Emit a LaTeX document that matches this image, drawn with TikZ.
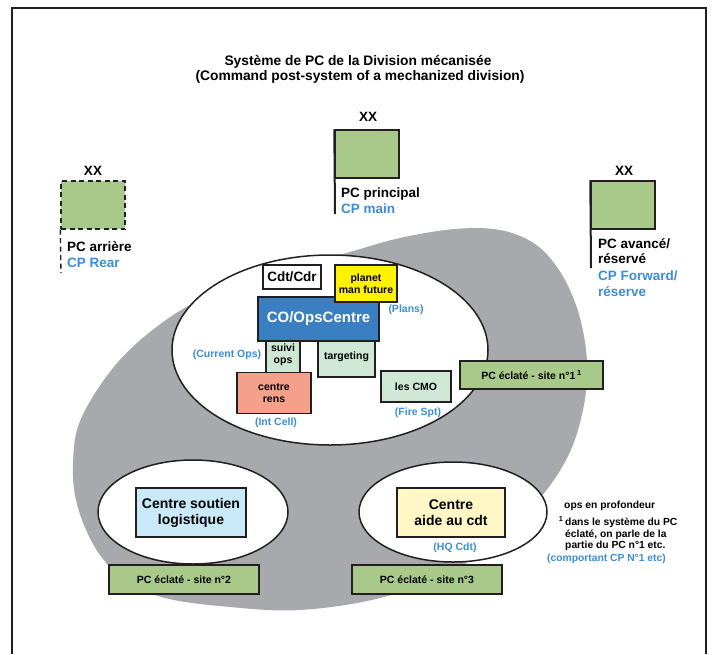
\documentclass[tikz,border=0pt]{standalone}
\usepackage{fontspec}
\setmainfont{Liberation Sans}
\usetikzlibrary{shapes.geometric}

\definecolor{framecol}{HTML}{231F20}
\definecolor{zonegray}{HTML}{A7A9AC}
\definecolor{flaggreen}{HTML}{A9C98A}
\definecolor{cpblue}{HTML}{3B8ED6}
\definecolor{opsblue}{HTML}{3A7FC2}
\definecolor{palegreen}{HTML}{CFE8D6}
\definecolor{salmon}{HTML}{F5A08A}
\definecolor{plansyellow}{HTML}{FFF200}
\definecolor{paleyellow}{HTML}{FFF8C6}
\definecolor{paleblue}{HTML}{C9E9F8}

\newcommand\myfs[2]{\fontsize{#1}{#2}\selectfont}

\begin{document}
\begin{tikzpicture}[x=1pt,y=-1pt,
  cellbox/.style={draw=framecol, line width=1.5pt, inner sep=0pt, align=center,
    font=\bfseries\myfs{10.5}{12}},
  sitebox/.style={cellbox, fill=flaggreen},
  bigbox/.style={cellbox, font=\bfseries\myfs{14}{16}},
  flagbox/.style={draw=framecol, line width=1.4pt, fill=flaggreen, inner sep=0pt,
    minimum width=64, minimum height=48},
  xxlabel/.style={font=\bfseries\myfs{13.5}{16}, inner sep=0pt},
  flagtext/.style={anchor=base west, inner sep=0pt, font=\bfseries\myfs{13.5}{16}},
  bluetag/.style={inner sep=0pt, text=cpblue, font=\bfseries\myfs{10.5}{12}},
  note/.style={anchor=base west, inner sep=0pt, font=\bfseries\myfs{10.3}{12}},
  zone/.style={draw=framecol, line width=1.5pt, fill=white},
  pole/.style={framecol, line width=2pt}
]
\useasboundingbox (0,0) rectangle (712,654);
\fill[white] (0,0) rectangle (712,654);

% open frame
\draw[framecol, line width=2.5pt] (12,654) -- (12,8) -- (706,8) -- (706,654);

% title
\node[inner sep=0pt, font=\bfseries\myfs{13.8}{15}] (title1) at (358,62)
  {Système de PC de la Division mécanisée};
\node[inner sep=0pt, font=\bfseries\myfs{13.8}{15}] (title2) at (360,77)
  {(Command post-system of a mechanized division)};

% main CP flag
\node[flagbox] (fmain) at (367,154) {};
\coordinate (fmainfoot) at (335,214);
\draw[pole] (fmain.north west) -- (fmainfoot);
\node[xxlabel] (xxmain) at (368,117) {XX};
\node[flagtext] (pcmain) at (341,197) {PC principal};
\node[flagtext, text=cpblue] (cpmain) at (341,213) {CP main};

% rear CP flag (dashed)
\node[flagbox, dashed, dash pattern=on 5pt off 3.5pt] (frear) at (93,205) {};
\coordinate (frearfoot) at (61,273);
\draw[pole, line width=1.4pt, dash pattern=on 5pt off 3.5pt] (frear.south west) -- (frearfoot);
\node[xxlabel] (xxrear) at (93,171) {XX};
\node[flagtext] (pcrear) at (67,251) {PC arrière};
\node[flagtext, text=cpblue] (cprear) at (67,267) {CP Rear};

% forward CP flag
\node[flagbox] (ffwd) at (623,205) {};
\coordinate (ffwdfoot) at (591,268);
\draw[pole] (ffwd.north west) -- (ffwdfoot);
\node[xxlabel] (xxfwd) at (624,171) {XX};
\node[flagtext] (pcfwd1) at (598,248) {PC avancé/};
\node[flagtext] (pcfwd2) at (598,263) {réservé};
\node[flagtext, text=cpblue] (cpfwd1) at (598,280) {CP Forward/};
\node[flagtext, text=cpblue] (cpfwd2) at (598,296) {réserve};

% grey zone of the divisional CP
\fill[zonegray] plot[smooth cycle, tension=0.6] coordinates {
  (73,465) (77,430) (92,398) (118,362) (150,332) (190,305) (240,285)
  (300,266) (350,252) (400,238) (455,229) (500,230) (535,244) (559,270)
  (576,305) (585,342) (587,375) (583,410) (570,452) (545,492) (505,535)
  (450,572) (380,598) (300,610) (230,607) (165,598) (125,580) (100,555)
  (84,525) (75,495)};

% main zone
\draw[zone] (330,350) ellipse [x radius=158, y radius=95];

\node[cellbox, fill=palegreen, minimum width=34, minimum height=36] (suivi) at (283,355) {suivi\\ops};
\node[cellbox, fill=palegreen, minimum width=57, minimum height=40] (targ) at (346.5,357) {targeting};
\node[cellbox, fill=opsblue, text=white, font=\bfseries\myfs{15}{17}, minimum width=121, minimum height=44] (ops) at (318.5,319) {CO/OpsCentre};
\node[cellbox, fill=white, font=\bfseries\myfs{13.5}{16}, minimum width=58, minimum height=24] (cdt) at (292,277) {Cdt/Cdr};
\node[cellbox, fill=plansyellow, minimum width=62, minimum height=37] (plans) at (366,283.5) {planet\\man future};
\node[cellbox, fill=salmon, minimum width=74, minimum height=41] (rens) at (274,393) {centre\\rens};
\node[cellbox, fill=palegreen, minimum width=70, minimum height=31] (cmo) at (416,386.5) {les CMO};

\node[bluetag] (plansTag) at (406,310) {(Plans)};
\node[bluetag] (curTag) at (227,355) {(Current Ops)};
\node[bluetag] (intTag) at (276,423) {(Int Cell)};
\node[bluetag] (fireTag) at (418,413) {(Fire Spt)};

\node[sitebox, minimum width=143, minimum height=28] (site1) at (531.5,375) {PC éclaté - site n°1\,\textsuperscript{1}};

% logistic support zone
\draw[zone] (193,512) ellipse [x radius=95, y radius=52];
\node[bigbox, fill=paleblue, minimum width=110, minimum height=49] (csl) at (191,512.5) {Centre soutien\\logistique};
\node[sitebox, minimum width=150, minimum height=29] (site2) at (184,579.5) {PC éclaté - site n°2};

% HQ support zone
\draw[zone] (453,512) ellipse [x radius=94, y radius=50];
\node[bigbox, fill=paleyellow, minimum width=108, minimum height=49] (aide) at (451,512.5) {Centre\\aide au cdt};
\node[bluetag] (hqTag) at (455,548) {(HQ Cdt)};
\node[sitebox, minimum width=150, minimum height=29] (site3) at (427,579.5) {PC éclaté - site n°3};

% note
\node[note] (n0) at (564,508) {ops en profondeur};
\node[note] (n1) at (565,525) {\llap{\textsuperscript{1}\,}dans le système du PC};
\node[note] (n2) at (565,537) {éclaté, on parle de la};
\node[note] (n3) at (565,548) {partie du PC n°1 etc.};
\node[note, text=cpblue] (n4) at (547,561) {(comportant CP N°1 etc)};
\end{tikzpicture}
\end{document}
